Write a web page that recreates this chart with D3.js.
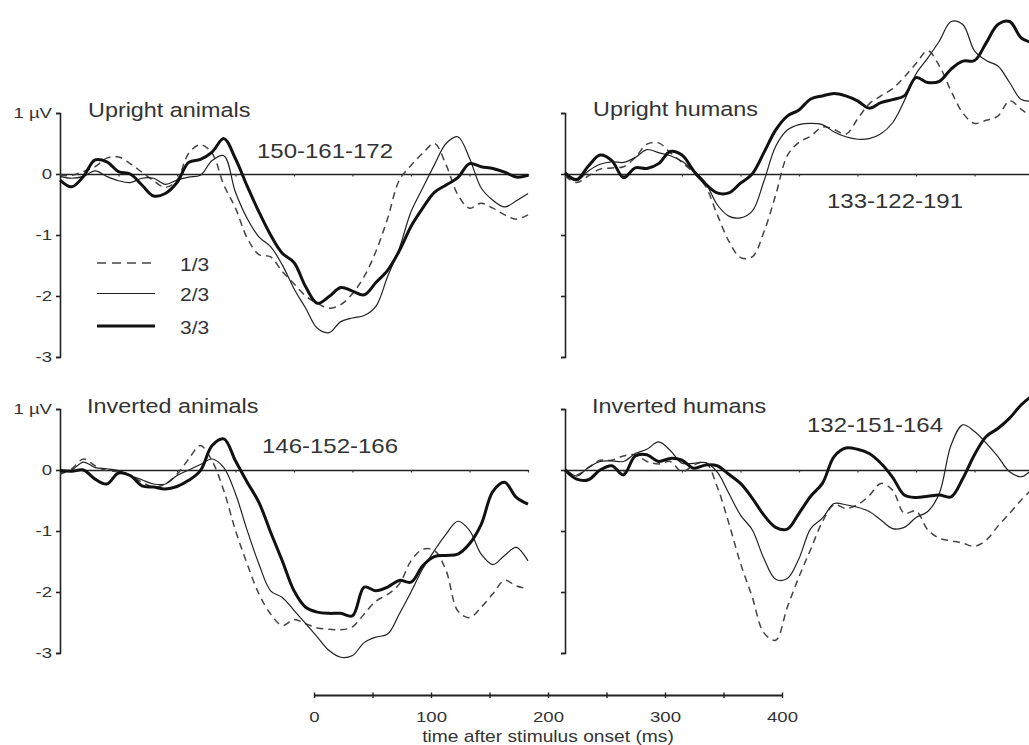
<!DOCTYPE html>
<html>
<head>
<meta charset="utf-8">
<script src="https://cdn.jsdelivr.net/npm/d3@7"></script>
<style>
body { margin: 0; background: #fff; }
svg { display: block; font-family: "Liberation Sans", Arial, sans-serif; }
</style>
</head>
<body>
<div id="chart"></div>
<script>
// time grid of the traces (ms) and the three thirds of the session
var times = d3.range(0, 401, 10);
var conditions = ["1/3", "2/3", "3/3"];
var titles = ["Upright animals", "Upright humans", "Inverted animals", "Inverted humans"];
var latencies = ["150-161-172", "133-122-191", "146-152-166", "132-151-164"];
var yTicks = [1, 0, -1, -2, -3];
var timeTicks = [0, 100, 200, 300, 400];

// amplitudes in microvolts, one value per 10 ms
var uprightAnimals1 = [-0.02,-0.02,0.04,0.12,0.26,0.28,0.17,0.03,-0.11,-0.22,-0.1,0.34,0.48,0.34,-0.18,-0.56,-1.05,-1.32,-1.36,-1.6,-1.8,-2.0,-2.12,-2.2,-2.14,-1.96,-1.68,-1.27,-0.73,-0.1,0.14,0.34,0.5,0.15,-0.34,-0.56,-0.48,-0.56,-0.67,-0.74,-0.67];
var uprightAnimals2 = [-0.04,-0.07,-0.04,0.05,-0.04,-0.11,-0.14,-0.07,-0.07,-0.17,-0.1,-0.05,-0.02,0.22,0.3,-0.3,-0.73,-1.03,-1.19,-1.49,-1.88,-2.2,-2.53,-2.6,-2.42,-2.36,-2.32,-2.17,-1.68,-1.22,-0.62,-0.23,0.15,0.5,0.61,0.26,-0.23,-0.43,-0.54,-0.44,-0.32];
var uprightAnimals3 = [-0.1,-0.21,-0.04,0.23,0.2,0.04,0.0,-0.18,-0.36,-0.32,-0.14,0.19,0.24,0.36,0.58,0.25,-0.2,-0.62,-1.0,-1.3,-1.45,-1.85,-2.12,-2.01,-1.86,-1.92,-1.98,-1.78,-1.58,-1.26,-0.86,-0.56,-0.3,-0.18,-0.06,0.17,0.12,0.09,0.03,-0.05,-0.02];

var uprightHumans1 = [-0.03,-0.14,-0.03,0.08,0.1,0.12,0.27,0.49,0.51,0.35,0.19,0.02,-0.2,-0.66,-1.1,-1.37,-1.36,-0.95,-0.35,0.3,0.52,0.62,0.77,0.73,0.65,0.9,1.15,1.28,1.4,1.59,1.81,2.02,1.77,1.36,1.0,0.83,0.88,0.95,1.2,1.06,0.92];
var uprightHumans2 = [0.0,-0.11,0.05,0.16,0.2,0.19,0.27,0.4,0.35,0.3,0.21,0.05,-0.14,-0.5,-0.69,-0.72,-0.61,-0.12,0.45,0.72,0.81,0.83,0.81,0.69,0.61,0.57,0.58,0.66,0.84,1.2,1.64,1.9,2.18,2.5,2.45,2.02,1.86,1.77,1.5,1.22,1.2];
var uprightHumans3 = [0.02,-0.09,0.13,0.31,0.22,-0.06,0.1,0.09,0.17,0.37,0.31,0.05,-0.16,-0.31,-0.31,-0.15,0.0,0.35,0.72,0.95,1.05,1.23,1.28,1.32,1.28,1.2,1.08,1.17,1.22,1.28,1.58,1.5,1.52,1.72,1.85,1.86,2.15,2.45,2.5,2.23,2.15];

var invertedAnimals1 = [-0.07,0.02,0.18,0.07,-0.01,-0.03,-0.09,-0.2,-0.28,-0.23,-0.07,0.18,0.4,0.15,-0.34,-0.99,-1.54,-2.03,-2.36,-2.55,-2.45,-2.52,-2.59,-2.61,-2.62,-2.57,-2.36,-2.15,-2.04,-1.87,-1.49,-1.3,-1.32,-1.65,-2.31,-2.42,-2.25,-2.03,-1.81,-1.9,-1.95];
var invertedAnimals2 = [-0.04,0.0,0.13,0.04,0.02,-0.01,-0.09,-0.16,-0.23,-0.23,-0.09,0.0,0.09,0.18,0.04,-0.39,-0.99,-1.54,-1.98,-2.09,-2.3,-2.52,-2.74,-2.96,-3.07,-3.04,-2.83,-2.74,-2.69,-2.36,-2.0,-1.62,-1.32,-1.05,-0.84,-0.99,-1.38,-1.55,-1.4,-1.27,-1.49];
var invertedAnimals3 = [-0.01,-0.02,0.0,-0.15,-0.23,-0.05,-0.09,-0.26,-0.28,-0.31,-0.27,-0.17,-0.01,0.4,0.51,0.15,-0.2,-0.53,-1.02,-1.49,-1.98,-2.25,-2.33,-2.35,-2.35,-2.39,-1.92,-1.98,-1.92,-1.81,-1.84,-1.57,-1.42,-1.4,-1.38,-1.21,-0.89,-0.35,-0.2,-0.45,-0.56];

var invertedHumans1 = [-0.03,-0.08,0.04,0.16,0.16,0.23,0.25,0.14,0.1,0.14,-0.03,0.08,0.13,-0.27,-0.87,-1.53,-2.08,-2.67,-2.79,-2.25,-1.75,-1.3,-0.85,-0.57,-0.63,-0.57,-0.42,-0.22,-0.33,-0.71,-0.67,-0.98,-1.12,-1.16,-1.2,-1.25,-1.15,-0.92,-0.71,-0.49,-0.3];
var invertedHumans2 = [0.03,-0.1,0.04,0.14,0.15,0.14,0.27,0.34,0.46,0.32,0.11,0.11,0.12,-0.03,-0.38,-0.74,-0.98,-1.45,-1.79,-1.78,-1.45,-0.96,-0.79,-0.55,-0.57,-0.61,-0.68,-0.82,-0.96,-0.94,-0.78,-0.68,-0.38,0.41,0.74,0.63,0.44,0.22,-0.03,-0.11,0.03];
var invertedHumans3 = [0.0,-0.15,-0.16,0.0,0.07,-0.08,0.23,0.25,0.14,0.19,0.16,0.03,0.08,0.07,-0.07,-0.22,-0.46,-0.74,-0.94,-0.97,-0.71,-0.43,-0.22,0.22,0.36,0.34,0.27,0.11,-0.12,-0.41,-0.45,-0.43,-0.41,-0.44,-0.14,0.25,0.55,0.68,0.85,1.07,1.23];

var panelSeries = [
  [uprightAnimals1, uprightAnimals2, uprightAnimals3],
  [uprightHumans1, uprightHumans2, uprightHumans3],
  [invertedAnimals1, invertedAnimals2, invertedAnimals3],
  [invertedHumans1, invertedHumans2, invertedHumans3]
];

var W = 1029, H = 745;
var SX = 1.2;            // lettering in the scan is a little wider than the font
var panelW = 468, uvPx = 61;
var textCol = "#333";

// where each panel sits: axis origin (time 0, 0 uV) and its labels
var layout = [
  {x0: 60,  y0: 174, tickLabels: true,  tx: 88,  ty: 117, lx: 257, ly: 158},
  {x0: 565, y0: 174, tickLabels: false, tx: 593, ty: 116, lx: 827, ly: 208},
  {x0: 60,  y0: 470, tickLabels: true,  tx: 87,  ty: 413, lx: 262, ly: 453},
  {x0: 565, y0: 470, tickLabels: false, tx: 592, ty: 413, lx: 807, ly: 432}
];

var lineStyle = [
  {stroke: "#444", width: 1.5, dash: "7,5"},
  {stroke: "#222", width: 1.2, dash: null},
  {stroke: "#111", width: 3,   dash: null}
];

var svg = d3.select("#chart").append("svg")
  .attr("width", W).attr("height", H);
svg.append("rect").attr("width", W).attr("height", H).attr("fill", "#fff");

function label(g, x, y, str, size, anchor) {
  return g.append("text")
    .attr("transform", "translate(" + x + "," + y + ") scale(" + SX + ",1)")
    .attr("text-anchor", anchor || "start")
    .attr("font-size", size)
    .attr("fill", textCol)
    .text(str);
}

// move axis tick text onto a transform so it can be stretched like the rest
function stretchTicks(axisG) {
  axisG.selectAll(".tick text").each(function() {
    var t = d3.select(this);
    var x = +t.attr("x") || 0, y = +t.attr("y") || 0;
    t.attr("x", 0).attr("y", 0)
      .attr("transform", "translate(" + x + "," + y + ") scale(" + SX + ",1)");
  });
}

layout.forEach(function(p, i) {
  var g = svg.append("g");

  var x = d3.scaleLinear().domain([0, 400]).range([p.x0, p.x0 + panelW]);
  var y = d3.scaleLinear().domain([-3, 1]).range([p.y0 + 3 * uvPx, p.y0 - uvPx]);

  // vertical microvolt axis
  var yAxis = d3.axisLeft(y)
    .tickValues(yTicks)
    .tickSize(4).tickSizeOuter(4).tickPadding(4)
    .tickFormat(function(d) {
      if (!p.tickLabels) return "";
      return d === 1 ? "1 \u00b5V" : String(d);
    });
  var ya = g.append("g")
    .attr("transform", "translate(" + p.x0 + ",0)")
    .call(yAxis);
  ya.attr("font-family", null).attr("font-size", 15.5);
  ya.select(".domain").attr("stroke", "#222").attr("stroke-width", 1.6);
  ya.selectAll(".tick line").attr("stroke", "#222").attr("stroke-width", 1.6);
  ya.selectAll(".tick text").attr("fill", textCol);
  stretchTicks(ya);

  // zero line with 50 ms marks
  var xa = g.append("g")
    .attr("transform", "translate(0," + y(0) + ")")
    .call(d3.axisBottom(x).tickValues(d3.range(50, 401, 50))
      .tickSize(2.5).tickSizeOuter(0).tickFormat(""));
  xa.select(".domain").attr("stroke", "#222").attr("stroke-width", 1.6);
  xa.selectAll(".tick line").attr("stroke", "#333").attr("stroke-width", 1.2);

  var line = d3.line()
    .x(function(d, k) { return x(times[k]); })
    .y(function(d) { return y(d); })
    .curve(d3.curveCatmullRom.alpha(0.5));

  panelSeries[i].forEach(function(vals, s) {
    var st = lineStyle[s];
    g.append("path")
      .datum(vals)
      .attr("d", line)
      .attr("fill", "none")
      .attr("stroke", st.stroke)
      .attr("stroke-width", st.width)
      .attr("stroke-dasharray", st.dash)
      .attr("stroke-linejoin", "round");
  });

  label(g, p.tx, p.ty, titles[i], 19.5);
  label(g, p.lx, p.ly, latencies[i], 20);
});

// legend inside the first panel
var leg = svg.append("g");
conditions.forEach(function(c, s) {
  var st = lineStyle[s];
  var ly = 263 + s * 30.5 + (s === 2 ? 2 : 0);
  leg.append("line")
    .attr("x1", 97).attr("x2", 155)
    .attr("y1", ly).attr("y2", ly)
    .attr("stroke", st.stroke)
    .attr("stroke-width", st.width)
    .attr("stroke-dasharray", st.dash ? "9,6" : null);
  label(leg, 180, ly + 7.5, c, 17.5);
});

// time scale bar under the panels
var xb = d3.scaleLinear().domain([0, 400]).range([314, 782]);
var ba = svg.append("g")
  .attr("transform", "translate(0,695)")
  .call(d3.axisBottom(xb).tickValues(d3.range(0, 401, 50))
    .tickSize(3).tickSizeOuter(0).tickPadding(13)
    .tickFormat(function(d) { return timeTicks.indexOf(d) >= 0 ? String(d) : ""; }));
ba.attr("font-family", null).attr("font-size", 15.5);
ba.select(".domain").attr("stroke", "#222").attr("stroke-width", 2);
ba.selectAll(".tick line").attr("stroke", "#222").attr("stroke-width", 1.4)
  .attr("y1", -2.5);
ba.selectAll(".tick text").attr("fill", textCol);
stretchTicks(ba);

label(svg, 548, 742, "time after stimulus onset (ms)", 16, "middle");
</script>
</body>
</html>
